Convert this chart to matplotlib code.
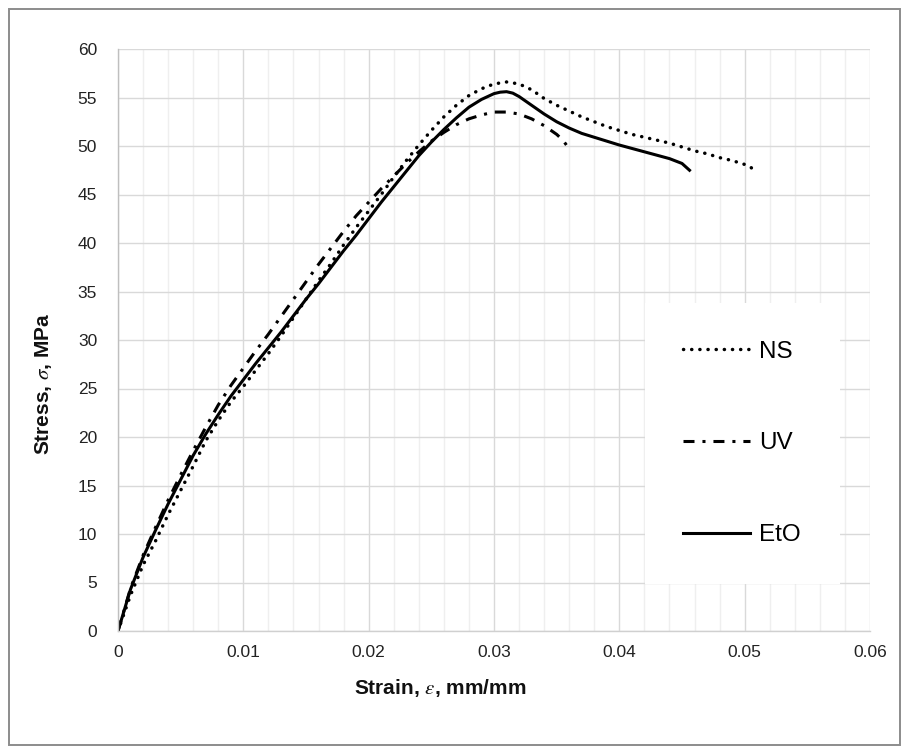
import matplotlib
matplotlib.use("Agg")
import matplotlib.pyplot as plt
from matplotlib.patches import Rectangle
from matplotlib.ticker import MultipleLocator, FixedLocator

plt.rcParams['font.family'] = ['Liberation Sans', 'DejaVu Sans']
plt.rcParams['mathtext.fontset'] = 'stix'

# ---- data ----
ns_strain = [0, 0.001, 0.002, 0.003, 0.004, 0.005, 0.006, 0.007, 0.008, 0.009, 0.010,
             0.011, 0.012, 0.013, 0.014, 0.015, 0.016, 0.017, 0.018, 0.019, 0.020,
             0.021, 0.022, 0.023, 0.024, 0.025, 0.026, 0.027, 0.028, 0.029, 0.030,
             0.031, 0.032, 0.033, 0.034, 0.035, 0.036, 0.037, 0.038, 0.039, 0.040,
             0.041, 0.042, 0.043, 0.044, 0.045, 0.046, 0.047, 0.048, 0.049, 0.050,
             0.0505, 0.0508]
ns_stress = [0, 3.7, 6.8, 9.3, 12.0, 14.5, 17.0, 19.6, 21.7, 23.6, 25.2,
             26.9, 28.6, 30.4, 32.3, 34.2, 36.1, 37.9, 39.8, 41.6, 43.3,
             45.0, 46.8, 48.5, 50.1, 51.6, 53.0, 54.2, 55.2, 55.9, 56.4,
             56.6, 56.4, 55.8, 54.9, 54.2, 53.6, 53.0, 52.5, 52.0, 51.6,
             51.2, 50.9, 50.6, 50.3, 49.9, 49.5, 49.2, 48.8, 48.5, 48.1,
             47.8, 47.35]

uv_strain = [0, 0.001, 0.002, 0.003, 0.004, 0.005, 0.006, 0.007, 0.008, 0.009, 0.010,
             0.011, 0.012, 0.013, 0.014, 0.015, 0.016, 0.017, 0.018, 0.019, 0.020,
             0.021, 0.022, 0.023, 0.024, 0.025, 0.026, 0.027, 0.028, 0.029, 0.030,
             0.031, 0.032, 0.033, 0.034, 0.035, 0.0355, 0.036]
uv_stress = [0, 4.4, 7.8, 10.7, 13.5, 16.1, 18.6, 21.0, 23.3, 25.3, 27.1,
             28.9, 30.6, 32.4, 34.2, 36.0, 37.8, 39.5, 41.2, 42.8, 44.2,
             45.6, 46.9, 48.2, 49.4, 50.5, 51.4, 52.2, 52.8, 53.2, 53.5,
             53.5, 53.3, 52.8, 52.1, 51.2, 50.6, 49.7]

eto_strain = [0, 0.001, 0.002, 0.003, 0.004, 0.005, 0.006, 0.007, 0.008, 0.009, 0.010,
              0.011, 0.012, 0.013, 0.014, 0.015, 0.016, 0.017, 0.018, 0.019, 0.020,
              0.021, 0.022, 0.023, 0.024, 0.025, 0.026, 0.027, 0.028, 0.029, 0.030,
              0.0305, 0.031, 0.0315, 0.032, 0.033, 0.034, 0.035, 0.036, 0.037, 0.038,
              0.039, 0.040, 0.041, 0.042, 0.043, 0.044, 0.045, 0.0456]
eto_stress = [0, 4.3, 7.6, 10.4, 13.1, 15.6, 18.1, 20.3, 22.3, 24.2, 25.9,
              27.6, 29.2, 30.8, 32.5, 34.2, 35.8, 37.5, 39.2, 40.8, 42.5,
              44.2, 45.8, 47.4, 49.0, 50.4, 51.7, 52.9, 54.0, 54.8, 55.4,
              55.55, 55.6, 55.45, 55.1, 54.2, 53.3, 52.5, 51.85, 51.3, 50.9,
              50.5, 50.1, 49.75, 49.4, 49.05, 48.7, 48.2, 47.5]

x_ticks = [0, 0.01, 0.02, 0.03, 0.04, 0.05, 0.06]
x_tick_labels = ['0', '0.01', '0.02', '0.03', '0.04', '0.05', '0.06']
y_ticks = list(range(0, 61, 5))
series_labels = ['NS', 'UV', 'EtO']

# ---- figure ----
W, H = 909, 754
fig = plt.figure(figsize=(W / 100, H / 100), dpi=100)
fig.patches.append(Rectangle((9 / W, 9 / H), (900 - 9) / W, (745 - 9) / H,
                             transform=fig.transFigure, fill=False,
                             edgecolor='#8c8c8c', linewidth=1.4, zorder=0))

ax = fig.add_axes([118 / W, 1 - 631 / H, (870 - 118) / W, (631 - 49) / H])
ax.set_xlim(0, 0.06)
ax.set_ylim(0, 60)

ax.xaxis.set_major_locator(FixedLocator(x_ticks))
ax.set_xticklabels(x_tick_labels)
ax.xaxis.set_minor_locator(MultipleLocator(0.002))
ax.yaxis.set_major_locator(FixedLocator(y_ticks))

ax.grid(which='major', axis='both', color='#d9d9d9', linewidth=1.0, zorder=0)
ax.grid(which='minor', axis='x', color='#efefef', linewidth=1.0, zorder=0)
ax.set_axisbelow(True)

for s in ['top', 'right']:
    ax.spines[s].set_visible(False)
ax.spines['left'].set_color('#bfbfbf')
ax.spines['bottom'].set_color('#d0d0d0')
ax.spines['left'].set_linewidth(1.0)
ax.spines['bottom'].set_linewidth(1.0)

ax.tick_params(which='both', length=0, labelsize=12.5, labelcolor='#222222')
ax.tick_params(axis='x', pad=10)
ax.tick_params(axis='y', pad=15)

ax.plot(ns_strain, ns_stress, color='black', linewidth=2.5,
        linestyle=(0, (0.05, 2.3)), dash_capstyle='round', label=series_labels[0])
ax.plot(uv_strain, uv_stress, color='black', linewidth=2.2,
        linestyle=(0, (3.6, 2.6, 1.0, 2.6)), dash_capstyle='butt', label=series_labels[1])
ax.plot(eto_strain, eto_stress, color='black', linewidth=2.2,
        linestyle='-', label=series_labels[2])

x0 = (645 - 118) / 752
x1 = (840 - 118) / 752
yt = (631 - 303) / 582
leg = ax.legend(loc='upper left', bbox_to_anchor=(x0, yt, x1 - x0, 0.0),
                mode='expand', borderaxespad=0, fontsize=17.5, frameon=True,
                fancybox=False, edgecolor='none', facecolor='white', framealpha=1,
                handlelength=2.75, handletextpad=0.38, labelspacing=2.87,
                borderpad=1.55)
leg.get_frame().set_linewidth(0)

fig.text(440 / W, 1 - 688 / H, r'Strain, $\varepsilon$, mm/mm', ha='center', va='center',
         fontsize=15, fontweight='bold', color='#111111')
fig.text(44 / W, 1 - 384 / H, r'Stress, $\sigma$, MPa', ha='center', va='center',
         rotation=90, fontsize=15, fontweight='bold', color='#111111')

fig.savefig('out.png', dpi=100)
